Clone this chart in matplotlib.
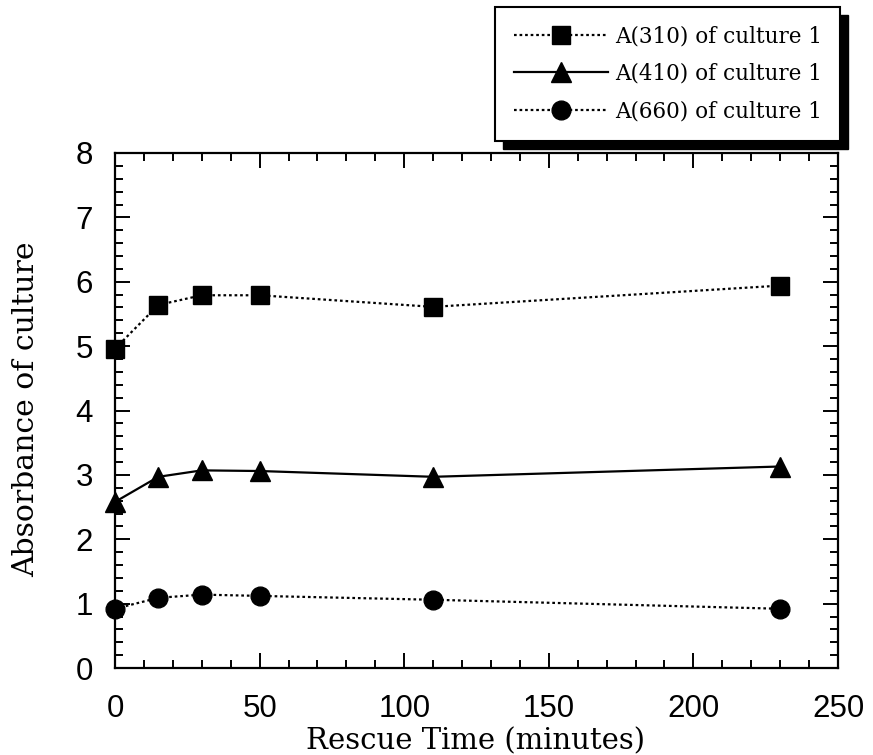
import matplotlib
matplotlib.use("Agg")
import matplotlib.pyplot as plt
from matplotlib.patches import Rectangle
from matplotlib.ticker import MultipleLocator

# Rescue time (minutes) and absorbance readings
time_min = [0, 15, 30, 50, 110, 230]
a310 = [4.96, 5.64, 5.79, 5.79, 5.61, 5.94]
a410 = [2.58, 2.97, 3.07, 3.06, 2.97, 3.13]
a660 = [0.92, 1.09, 1.14, 1.12, 1.06, 0.92]

series_labels = ["A(310) of culture 1", "A(410) of culture 1", "A(660) of culture 1"]
x_label = "Rescue Time (minutes)"
y_label = "Absorbance of culture"

serif = ["DejaVu Serif"]
sans = ["Liberation Sans", "DejaVu Sans"]

fig = plt.figure(figsize=(8.73, 7.55), dpi=100)
ax = fig.add_axes([115 / 873, 1 - 668 / 755, (838 - 115) / 873, (668 - 153) / 755])

dot = (0, (1.2, 1.3))
ax.plot(time_min, a310, color="black", linestyle=dot, linewidth=1.6,
        marker="s", markersize=12.5, label=series_labels[0], clip_on=False, zorder=3)
ax.plot(time_min, a410, color="black", linestyle="-", linewidth=1.6,
        marker="^", markersize=14, label=series_labels[1], clip_on=False, zorder=3)
ax.plot(time_min, a660, color="black", linestyle=dot, linewidth=1.6,
        marker="o", markersize=13.5, label=series_labels[2], clip_on=False, zorder=3)

ax.set_xlim(0, 250)
ax.set_ylim(0, 8)
ax.xaxis.set_major_locator(MultipleLocator(50))
ax.xaxis.set_minor_locator(MultipleLocator(10))
ax.yaxis.set_major_locator(MultipleLocator(1))
ax.yaxis.set_minor_locator(MultipleLocator(0.2))

for s in ax.spines.values():
    s.set_linewidth(1.6)
ax.tick_params(which="both", direction="in", top=True, right=True, width=1.4)
ax.tick_params(which="major", length=11)
ax.tick_params(which="minor", length=6)
ax.tick_params(axis="x", which="major", pad=19)
ax.tick_params(axis="y", which="major", pad=16)
for lab in ax.get_xticklabels() + ax.get_yticklabels():
    lab.set_fontfamily(sans)
    lab.set_fontsize(22.5)

ax.set_xlabel(x_label, fontfamily=serif, fontsize=21)
ax.set_ylabel(y_label, fontfamily=serif, fontsize=21.5)
ax.xaxis.label.set_verticalalignment("center")
ax.yaxis.label.set_verticalalignment("center")
ax.xaxis.set_label_coords((476 - 115) / 723, (668 - 741) / 515)
ax.yaxis.set_label_coords((26 - 115) / 723, (668 - 409) / 515)

leg = fig.legend(loc="upper right", bbox_to_anchor=(840 / 873, 1 - 7 / 755),
                 prop={"family": serif, "size": 15.5},
                 frameon=True, fancybox=False, framealpha=1,
                 edgecolor="black", handlelength=4.4, handletextpad=0.3,
                 labelspacing=0.72, borderpad=0.85, borderaxespad=0)
leg.get_frame().set_linewidth(1.5)
leg.set_zorder(5)

# Solid black drop shadow behind the legend box
fig.canvas.draw()
bb = leg.get_window_extent().transformed(fig.transFigure.inverted())
off_x, off_y = 8 / 873, 8 / 755
fig.patches.append(Rectangle((bb.x0 + off_x, bb.y0 - off_y), bb.width, bb.height,
                             transform=fig.transFigure, facecolor="black",
                             edgecolor="black", zorder=4))

fig.savefig("out.png", dpi=100)
